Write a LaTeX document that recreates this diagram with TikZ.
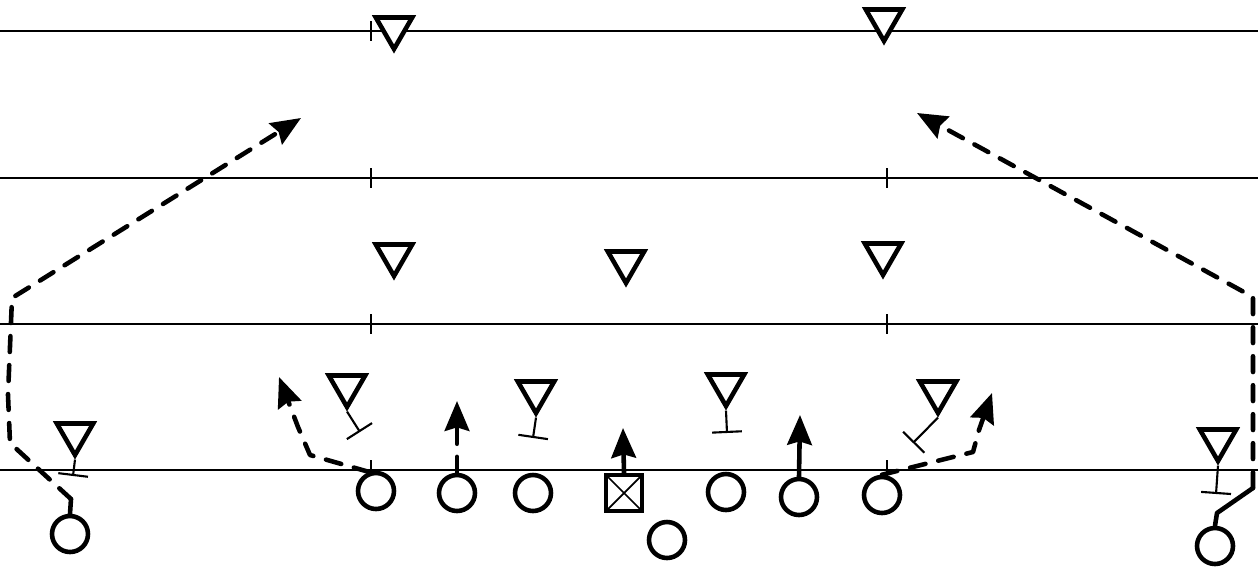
\documentclass[tikz,border=0pt]{standalone}
\usetikzlibrary{shapes.geometric, arrows.meta}

\begin{document}
\begin{tikzpicture}[x=0.02cm, y=-0.02cm,
  yard/.style={line width=1.2pt},
  defender/.style={draw, fill=white, line width=2.6pt, regular polygon, regular polygon sides=3, shape border rotate=180, minimum size=0.84cm, inner sep=0pt},
  player/.style={draw, fill=white, circle, line width=2.6pt, minimum size=0.72cm, inner sep=0pt},
  snapper/.style={draw, fill=white, rectangle, line width=2.6pt, minimum size=0.72cm, inner sep=0pt,
    path picture={\draw[line width=1pt] (path picture bounding box.north west) -- (path picture bounding box.south east)
      (path picture bounding box.north east) -- (path picture bounding box.south west);}},
  block/.style={line width=1.2pt, -{Bar[width=17pt]}},
  route/.style={line width=2.6pt, line cap=round, line join=round},
  dashroute/.style={route, dash pattern=on 9pt off 7.5pt},
  runtip/.style={-{Stealth[length=17pt, width=14pt, inset=2pt]}}]
                \useasboundingbox (0,0) rectangle (1258,569);
                \foreach \y in {31,178,324,470}
                  \draw[yard] (0,\y) -- (1258,\y);
                \foreach \x/\y in {371/31, 371/178, 887/178, 371/324, 887/324, 371/470, 887/470}
                  \draw[yard] (\x,\y-10) -- (\x,\y+10);
                \node[defender] (s1) at (394,28) {};
                \node[defender] (s2) at (884,20) {};
                \node[defender] (lb1) at (394,255) {};
                \node[defender] (lb2) at (626,262) {};
                \node[defender] (lb3) at (883,254) {};
                \node[defender] (dl1) at (347,386) {};
                \node[defender] (dl2) at (536,392) {};
                \node[defender] (dl3) at (726,385) {};
                \node[defender] (dl4) at (938,392) {};
                \node[defender] (cb1) at (75,434) {};
                \node[defender] (cb2) at (1218,440) {};
                \coordinate (bdl1) at (360,432);
                \coordinate (bdl2) at (533,438);
                \coordinate (bdl3) at (727,433);
                \coordinate (bdl4) at (913,443);
                \coordinate (bcb1) at (73,476);
                \coordinate (bcb2) at (1216,494);
                \draw[block] (dl1.south) -- (bdl1);
                \draw[block] (dl2.south) -- (bdl2);
                \draw[block] (dl3.south) -- (bdl3);
                \draw[block] (dl4.south) -- (bdl4);
                \draw[block] (cb1.south) -- (bcb1);
                \draw[block] (cb2.south) -- (bcb2);
                \node[player] (le) at (376,491) {};
                \node[player] (lt) at (457,493) {};
                \node[player] (lg) at (533,493) {};
                \node[snapper] (c) at (624,493) {};
                \node[player] (rg) at (726,492) {};
                \node[player] (rt) at (799,497) {};
                \node[player] (te) at (882,495) {};
                \node[player] (qb) at (667,540) {};
                \node[player] (wl) at (70,534) {};
                \node[player] (wr) at (1215,546) {};
                \coordinate (wl1) at (71,499);
                \coordinate (wl2) at (10,443);
                \coordinate (wl3) at (8,395);
                \coordinate (wl4) at (12,298);
                \coordinate (wl5) at (301,118);
                \coordinate (wr1) at (1217,513);
                \coordinate (wr2) at (1253,488);
                \coordinate (wr3) at (1253,297);
                \coordinate (wr4) at (917,113);
                \coordinate (le1) at (310,455);
                \coordinate (le2) at (298,427);
                \coordinate (le3) at (279,377);
                \coordinate (lt1) at (457,401);
                \coordinate (c1) at (623,428);
                \coordinate (rt1) at (800,415);
                \coordinate (te1) at (973,452);
                \coordinate (te2) at (979,430);
                \coordinate (te3) at (992,393);
                \draw[route] (wl.north) -- (wl1);
                \draw[dashroute, runtip] (wl1) -- (wl2) -- (wl3) -- (wl4) -- (wl5);
                \draw[route] (wr.north) -- (wr1) -- (wr2);
                \draw[dashroute, runtip] (wr2) -- (wr3) -- (wr4);
                \draw[dashroute, runtip] (le.110) -- (le1) -- (le2) -- (le3);
                \draw[dashroute, runtip] (lt.north) -- (lt1);
                \draw[route, runtip] (c.north) -- (c1);
                \draw[route, runtip] (rt.north) -- (rt1);
                \draw[dashroute, runtip] (te.north) -- (te1) -- (te2) -- (te3);
\end{tikzpicture}
\end{document}
